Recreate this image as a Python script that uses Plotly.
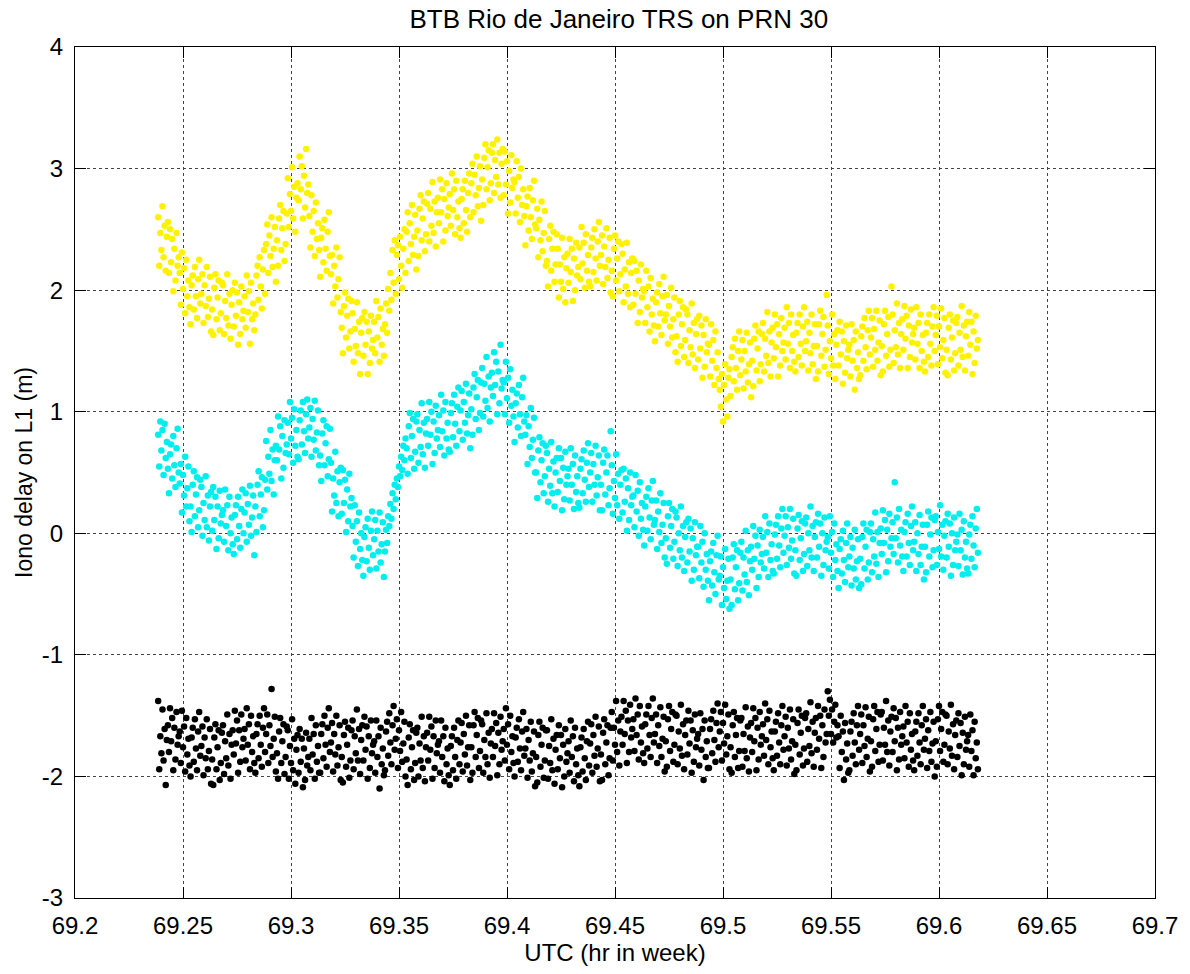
import plotly.graph_objects as go

# ---------------- data ----------------
TIME_START_HR = 69.2385      # first epoch (hr in week)
TIME_STEP_HR = 0.0005        # sampling interval (hr)

# Iono delay on L1, in centimetres
YELLOW_CM = [
    260, 220, 247, 233, 269, 227, 253, 216, 244, 256,
    214, 250, 223, 242, 199, 234, 208, 247, 220, 227,
    214, 188, 231, 201, 218, 181, 225, 195, 208, 186,
    172, 204, 212, 184, 219, 195, 177, 209, 225, 189,
    197, 213, 173, 204, 187, 219, 178, 193, 211, 166,
    184, 163, 202, 213, 176, 194, 208, 167, 181, 206,
    204, 164, 191, 177, 213, 171, 197, 160, 188, 200,
    170, 206, 179, 198, 155, 190, 164, 203, 176, 183,
    195, 169, 212, 182, 199, 156, 206, 176, 189, 167,
    180, 212, 220, 192, 227, 203, 185, 217, 233, 197,
    238, 254, 214, 245, 228, 260, 219, 234, 252, 207,
    241, 220, 259, 270, 233, 251, 265, 224, 238, 263,
    292, 252, 279, 265, 301, 259, 285, 248, 276, 288,
    274, 310, 283, 302, 259, 294, 268, 316, 280, 287,
    261, 235, 278, 248, 265, 228, 272, 242, 255, 233,
    211, 243, 251, 223, 258, 234, 216, 248, 264, 228,
    213, 229, 189, 220, 203, 235, 194, 209, 227, 182,
    169, 148, 187, 198, 161, 179, 193, 152, 166, 191,
    181, 141, 168, 154, 190, 148, 174, 131, 165, 177,
    146, 182, 155, 174, 131, 166, 140, 179, 152, 159,
    174, 148, 191, 161, 178, 141, 185, 155, 168, 146,
    172, 189, 165, 201, 183, 214, 192, 233, 206, 241,
    197, 229, 237, 209, 244, 220, 202, 234, 250, 214,
    248, 264, 224, 255, 238, 270, 229, 244, 262, 217,
    249, 228, 267, 278, 241, 259, 273, 232, 246, 271,
    280, 240, 267, 253, 289, 247, 273, 236, 264, 276,
    255, 291, 264, 283, 240, 275, 249, 288, 261, 268,
    279, 253, 296, 266, 283, 246, 290, 260, 273, 251,
    243, 275, 283, 255, 290, 266, 248, 280, 296, 260,
    288, 304, 264, 295, 278, 310, 269, 284, 302, 257,
    291, 270, 309, 320, 283, 301, 315, 274, 288, 313,
    320, 280, 307, 293, 324, 287, 313, 276, 304, 316,
    278, 314, 287, 306, 263, 298, 272, 311, 284, 291,
    289, 263, 306, 276, 293, 256, 300, 270, 283, 261,
    237, 269, 277, 249, 284, 260, 242, 274, 290, 254,
    251, 267, 227, 258, 241, 273, 232, 247, 265, 220,
    224, 203, 242, 253, 216, 234, 248, 207, 221, 246,
    234, 194, 221, 207, 243, 201, 227, 190, 218, 230,
    206, 242, 215, 234, 191, 226, 200, 239, 212, 219,
    235, 209, 252, 222, 239, 202, 246, 216, 229, 207,
    203, 235, 243, 215, 250, 226, 208, 240, 256, 220,
    229, 245, 205, 236, 219, 251, 210, 225, 243, 198,
    216, 195, 234, 245, 208, 226, 240, 199, 213, 238,
    230, 190, 217, 203, 239, 197, 223, 186, 214, 226,
    188, 224, 197, 216, 173, 208, 182, 221, 194, 201,
    199, 173, 216, 186, 203, 166, 210, 180, 193, 171,
    158, 190, 198, 170, 205, 181, 163, 195, 211, 175,
    180, 196, 156, 187, 170, 202, 161, 176, 194, 149,
    162, 141, 180, 191, 154, 172, 186, 145, 159, 184,
    180, 140, 167, 153, 189, 147, 173, 136, 164, 176,
    143, 179, 152, 171, 128, 163, 137, 176, 149, 156,
    155, 129, 172, 142, 159, 122, 166, 136, 149, 127,
    118, 104, 131, 92, 122, 139, 110, 96, 128, 135,
    113, 145, 153, 125, 160, 136, 118, 150, 166, 130,
    143, 159, 119, 150, 133, 165, 124, 139, 157, 112,
    142, 121, 160, 171, 134, 152, 166, 125, 139, 164,
    173, 133, 160, 146, 182, 140, 166, 129, 157, 169,
    144, 180, 153, 172, 129, 164, 138, 177, 150, 157,
    169, 143, 186, 156, 173, 136, 180, 150, 163, 141,
    133, 165, 173, 145, 180, 156, 138, 170, 186, 150,
    158, 174, 134, 165, 148, 180, 139, 154, 172, 127,
    154, 133, 172, 183, 146, 164, 178, 137, 151, 196,
    171, 131, 158, 144, 180, 138, 164, 127, 155, 167,
    138, 174, 147, 166, 123, 158, 132, 171, 144, 151,
    155, 129, 172, 142, 159, 118, 166, 136, 149, 127,
    130, 162, 170, 142, 177, 153, 135, 167, 183, 147,
    161, 177, 137, 168, 151, 183, 142, 157, 175, 130,
    154, 133, 172, 183, 146, 164, 178, 137, 151, 203,
    180, 140, 167, 153, 189, 147, 173, 136, 164, 176,
    151, 187, 160, 179, 136, 171, 145, 184, 157, 164,
    169, 143, 186, 156, 173, 136, 180, 150, 163, 141,
    133, 165, 173, 145, 180, 156, 138, 170, 186, 150,
    163, 179, 139, 170, 153, 185, 144, 159, 177, 132,
    151, 130, 169, 180, 143, 161, 175, 134, 148, 173,
    178, 138, 165, 151, 187, 145, 171, 134, 162, 174,
    146, 182, 155, 174, 131, 166, 140, 179, 152, 159,
]

CYAN_CM = [
    81, 55, 92, 68, 85, 48, 90, 62, 75, 53,
    33, 65, 73, 45, 80, 56, 38, 70, 86, 50,
    41, 57, 17, 48, 31, 63, 22, 37, 55, 10,
    22, 1, 40, 51, 14, 32, 46, 5, 19, 44,
    38, -2, 25, 11, 47, 5, 31, -6, 22, 34,
    2, 38, 11, 30, -13, 22, -4, 35, 8, 15,
    19, -7, 36, 6, 23, -14, 30, 0, 13, -9,
    -17, 15, 23, -5, 30, 6, -12, 20, 36, 0,
    17, 33, -7, 24, 7, 39, -2, 13, 31, -18,
    22, 1, 40, 51, 14, 32, 46, 5, 19, 44,
    76, 36, 63, 49, 85, 43, 69, 32, 60, 72,
    60, 96, 69, 88, 45, 80, 54, 93, 66, 73,
    91, 65, 108, 78, 95, 58, 102, 72, 85, 63,
    61, 93, 101, 73, 108, 84, 66, 98, 110, 78,
    87, 103, 63, 94, 77, 109, 68, 83, 101, 56,
    64, 43, 82, 93, 56, 74, 88, 47, 61, 86,
    58, 18, 45, 31, 67, 25, 51, 14, 42, 54,
    16, 52, 25, 44, 1, 36, 10, 49, 22, 29,
    6, -20, 23, -7, 10, -27, 17, -13, 0, -22,
    -35, -3, 5, -23, 12, -12, -30, 2, 18, -18,
    -5, 11, -29, 2, -15, 17, -24, -9, 9, -36,
    -15, 3, -8, 14, 6, 24, 12, 33, 20, 40,
    28, 45, 38, 55, 47, 63, 52, 72, 60, 78,
    70, 49, 88, 99, 62, 80, 94, 53, 67, 92,
    98, 58, 85, 71, 107, 65, 91, 54, 82, 94,
    72, 108, 81, 100, 57, 92, 66, 105, 78, 85,
    97, 71, 114, 84, 101, 64, 108, 78, 91, 69,
    67, 99, 107, 79, 114, 90, 72, 104, 120, 84,
    101, 117, 77, 108, 91, 123, 82, 97, 115, 70,
    102, 81, 120, 131, 94, 112, 126, 85, 99, 124,
    136, 96, 123, 109, 145, 103, 129, 92, 120, 132,
    113, 149, 122, 141, 98, 133, 107, 155, 119, 126,
    124, 98, 141, 111, 128, 91, 135, 105, 118, 96,
    75, 107, 115, 87, 122, 98, 80, 112, 128, 92,
    81, 97, 57, 88, 71, 103, 62, 77, 95, 50,
    50, 29, 68, 79, 42, 60, 74, 33, 47, 72,
    66, 26, 53, 39, 75, 33, 59, 22, 50, 62,
    34, 70, 43, 62, 19, 54, 28, 67, 40, 47,
    53, 27, 70, 40, 57, 20, 64, 34, 47, 25,
    21, 53, 61, 33, 68, 44, 26, 58, 74, 38,
    50, 66, 26, 57, 40, 72, 31, 46, 64, 19,
    40, 19, 58, 69, 32, 50, 64, 23, 37, 84,
    56, 16, 43, 29, 65, 23, 49, 12, 40, 52,
    17, 53, 26, 45, 2, 37, 11, 50, 23, 30,
    31, 5, 48, 18, 35, -2, 42, 12, 25, 3,
    -10, 22, 30, 2, 37, 13, -5, 27, 43, 7,
    11, 27, -13, 18, 1, 33, -8, 7, 25, -20,
    -4, -25, 14, 25, -12, 6, 20, -21, -7, 18,
    13, -27, 0, -14, 22, -20, 6, -31, -3, 9,
    -24, 12, -15, 4, -39, -4, -30, 9, -18, -11,
    -11, -37, 6, -24, -7, -44, 0, -30, -17, -39,
    -55, -23, -15, -43, -8, -32, -50, -18, -2, -38,
    -35, -19, -59, -28, -45, -13, -54, -39, -21, -62,
    -38, -59, -20, -9, -46, -28, -14, -55, -41, -16,
    -7, -47, -20, -34, 2, -40, -14, -51, -23, -11,
    -30, 6, -21, -2, -45, -10, -36, 3, -24, -17,
    -3, -29, 14, -16, 1, -36, 8, -22, -9, -31,
    -33, -1, 7, -21, 14, -10, -28, 4, 20, -16,
    -2, 14, -26, 5, -12, 20, -21, -6, 12, -33,
    -14, -35, 4, 15, -22, -4, 10, -31, -17, 8,
    13, -27, 0, -14, 22, -20, 6, -31, -3, 9,
    -20, 16, -11, 8, -35, 0, -26, 13, -14, -7,
    -3, -29, 14, -16, 1, -36, 8, -22, -9, -31,
    -45, -13, -5, -33, 2, -22, -40, -8, 8, -28,
    -19, -3, -43, -12, -29, 3, -38, -23, -5, -45,
    -21, -42, -3, 8, -29, -11, 3, -38, -24, 1,
    8, -32, -5, -19, 17, -25, 1, -36, -8, 4,
    -17, 19, -8, 11, -32, 3, -23, 16, -11, -4,
    9, -17, 42, -4, 13, -24, 20, -10, 3, -19,
    -31, 1, 9, -19, 16, -8, -26, 6, 22, -14,
    -7, 9, -31, 0, -17, 15, -26, -11, 7, -38,
    -11, -32, 7, 18, -19, -1, 13, -28, -14, 11,
    14, -26, 1, -13, 23, -19, 7, -30, -2, 10,
    -20, 16, -11, 8, -35, 0, -26, 13, -14, -7,
    -1, -27, 16, -14, 3, -34, 10, -20, -7, -29,
    -33, -1, 7, -21, 14, -10, -28, 4, 20, -16,
]

BLACK_CM = [
    -138, -194, -167, -181, -145, -187, -161, -207, -170, -158,
    -180, -144, -171, -152, -195, -160, -186, -147, -174, -167,
    -163, -189, -146, -176, -159, -196, -152, -182, -169, -191,
    -200, -168, -160, -188, -153, -177, -195, -163, -147, -183,
    -175, -159, -199, -168, -185, -153, -194, -179, -161, -206,
    -186, -207, -168, -157, -194, -176, -162, -203, -189, -164,
    -158, -198, -171, -185, -149, -191, -165, -202, -174, -162,
    -182, -146, -173, -154, -197, -162, -188, -149, -176, -169,
    -161, -187, -144, -174, -157, -194, -150, -180, -167, -189,
    -197, -165, -157, -185, -150, -174, -192, -160, -144, -180,
    -165, -149, -189, -158, -175, -128, -184, -169, -151, -196,
    -181, -202, -163, -152, -189, -171, -157, -198, -184, -159,
    -162, -202, -175, -189, -153, -195, -169, -206, -178, -166,
    -197, -161, -188, -169, -209, -177, -203, -164, -191, -184,
    -169, -195, -152, -182, -165, -202, -158, -188, -175, -197,
    -197, -165, -157, -185, -150, -174, -192, -160, -144, -180,
    -172, -156, -196, -165, -182, -150, -191, -176, -158, -203,
    -184, -205, -166, -155, -192, -174, -160, -201, -187, -162,
    -154, -194, -167, -181, -145, -187, -161, -198, -170, -158,
    -187, -151, -178, -159, -202, -167, -193, -154, -181, -174,
    -171, -197, -154, -184, -167, -210, -160, -190, -177, -199,
    -195, -163, -155, -183, -148, -172, -190, -158, -142, -178,
    -169, -153, -193, -162, -179, -147, -188, -173, -155, -200,
    -186, -207, -168, -157, -194, -176, -162, -203, -189, -164,
    -160, -200, -173, -187, -151, -193, -167, -204, -176, -164,
    -187, -151, -178, -159, -202, -167, -193, -154, -181, -174,
    -171, -197, -154, -184, -167, -204, -160, -190, -177, -199,
    -207, -175, -167, -195, -160, -184, -202, -170, -154, -190,
    -172, -156, -196, -165, -182, -150, -191, -176, -158, -203,
    -176, -197, -158, -147, -184, -166, -152, -193, -179, -154,
    -157, -197, -170, -184, -148, -190, -164, -201, -173, -161,
    -184, -148, -175, -156, -199, -164, -190, -151, -178, -171,
    -161, -187, -144, -174, -157, -194, -150, -180, -167, -189,
    -200, -168, -160, -188, -153, -177, -195, -163, -147, -183,
    -177, -161, -201, -170, -187, -155, -196, -181, -163, -208,
    -184, -205, -166, -155, -192, -174, -160, -201, -187, -162,
    -162, -202, -175, -189, -153, -195, -169, -206, -178, -166,
    -194, -158, -185, -166, -209, -174, -200, -161, -188, -181,
    -171, -197, -154, -184, -167, -204, -160, -190, -177, -199,
    -208, -176, -168, -196, -161, -185, -203, -171, -155, -191,
    -173, -157, -197, -166, -183, -151, -192, -177, -159, -204,
    -182, -203, -164, -153, -190, -172, -158, -199, -185, -160,
    -147, -187, -160, -174, -138, -180, -154, -191, -163, -151,
    -174, -138, -165, -146, -189, -154, -180, -141, -168, -161,
    -153, -179, -136, -166, -149, -186, -142, -172, -159, -181,
    -189, -157, -149, -177, -142, -166, -184, -152, -136, -172,
    -165, -149, -189, -158, -175, -143, -184, -169, -151, -196,
    -171, -192, -153, -142, -179, -161, -147, -188, -174, -149,
    -150, -190, -163, -177, -141, -183, -157, -194, -166, -154,
    -182, -146, -173, -154, -197, -162, -188, -149, -176, -169,
    -165, -191, -148, -178, -161, -203, -154, -184, -171, -193,
    -193, -161, -153, -181, -146, -170, -188, -156, -140, -176,
    -163, -147, -187, -156, -173, -141, -182, -167, -149, -194,
    -176, -197, -158, -147, -184, -166, -152, -193, -179, -154,
    -152, -192, -165, -179, -143, -185, -159, -196, -168, -156,
    -180, -144, -171, -152, -195, -160, -186, -147, -174, -167,
    -157, -183, -140, -170, -153, -190, -146, -176, -163, -185,
    -195, -163, -155, -183, -148, -172, -190, -158, -142, -178,
    -167, -151, -191, -160, -177, -145, -186, -171, -153, -198,
    -174, -195, -156, -145, -182, -164, -150, -191, -177, -152,
    -148, -188, -161, -175, -139, -181, -155, -192, -164, -152,
    -178, -142, -169, -150, -193, -158, -184, -145, -172, -165,
    -130, -150, -137, -165, -145, -172, -155, -141, -168, -158,
    -167, -193, -150, -180, -163, -203, -156, -186, -173, -197,
    -195, -163, -155, -183, -148, -172, -190, -158, -142, -178,
    -165, -149, -189, -158, -175, -143, -184, -169, -151, -196,
    -171, -192, -153, -142, -179, -161, -147, -188, -174, -149,
    -147, -187, -160, -174, -138, -180, -154, -191, -163, -151,
    -180, -144, -171, -152, -195, -160, -186, -147, -174, -167,
    -159, -185, -142, -172, -155, -192, -148, -178, -165, -187,
    -195, -163, -155, -183, -148, -172, -190, -158, -142, -178,
    -169, -153, -193, -162, -179, -147, -188, -173, -155, -200,
    -171, -192, -153, -142, -179, -161, -147, -188, -174, -149,
    -150, -190, -163, -177, -141, -183, -157, -194, -166, -154,
    -184, -148, -175, -156, -199, -164, -190, -151, -178, -171,
    -166, -192, -149, -179, -162, -199, -155, -185, -172, -194,
]

X_TICKS = [69.2, 69.25, 69.3, 69.35, 69.4, 69.45, 69.5, 69.55, 69.6, 69.65, 69.7]
X_TICK_TEXT = ["69.2", "69.25", "69.3", "69.35", "69.4", "69.45", "69.5", "69.55", "69.6", "69.65", "69.7"]
Y_TICKS = [-3, -2, -1, 0, 1, 2, 3, 4]
Y_TICK_TEXT = ["-3", "-2", "-1", "0", "1", "2", "3", "4"]

TITLE = "BTB Rio de Janeiro TRS on PRN 30"
X_LABEL = "UTC (hr in week)"
Y_LABEL = "Iono delay on L1 (m)"

# ---------------- figure ----------------
n = len(YELLOW_CM)
time_hr = [TIME_START_HR + i * TIME_STEP_HR for i in range(n)]

series = [
    (YELLOW_CM, "#FFF200"),
    (CYAN_CM, "#00EEEE"),
    (BLACK_CM, "#000000"),
]

fig = go.Figure()
for vals, color in series:
    fig.add_trace(go.Scatter(
        x=time_hr, y=[v / 100.0 for v in vals], mode="markers",
        marker=dict(color=color, size=6.5, symbol="circle", line=dict(width=0)),
        showlegend=False, hoverinfo="skip",
    ))

FONT = "Liberation Sans, Arial, sans-serif"

axis_common = dict(
    showline=True, linecolor="black", linewidth=1, mirror="ticks",
    ticks="inside", ticklen=11, tickwidth=1, tickcolor="black",
    showgrid=True, gridcolor="#444444", gridwidth=1, griddash="dot",
    zeroline=False, tickfont=dict(family=FONT, size=24, color="black"),
)

fig.update_layout(
    width=1190, height=974,
    margin=dict(l=75, r=27, t=47, b=68),
    paper_bgcolor="white", plot_bgcolor="white",
    title=dict(text=TITLE, x=0.52, xanchor="center", y=0.981, yanchor="middle",
               font=dict(family=FONT, size=26, color="black")),
    xaxis=dict(range=[69.2, 69.7], tickvals=X_TICKS, ticktext=X_TICK_TEXT,
               ticklabelstandoff=6,
               title=dict(text=X_LABEL, standoff=6, font=dict(family=FONT, size=24, color="black")),
               **axis_common),
    yaxis=dict(range=[-3, 4], tickvals=Y_TICKS, ticktext=Y_TICK_TEXT,
               ticklabelstandoff=6,
               title=dict(text=Y_LABEL, standoff=2, font=dict(family=FONT, size=23, color="black")),
               **axis_common),
)

fig.write_html("out.html")
